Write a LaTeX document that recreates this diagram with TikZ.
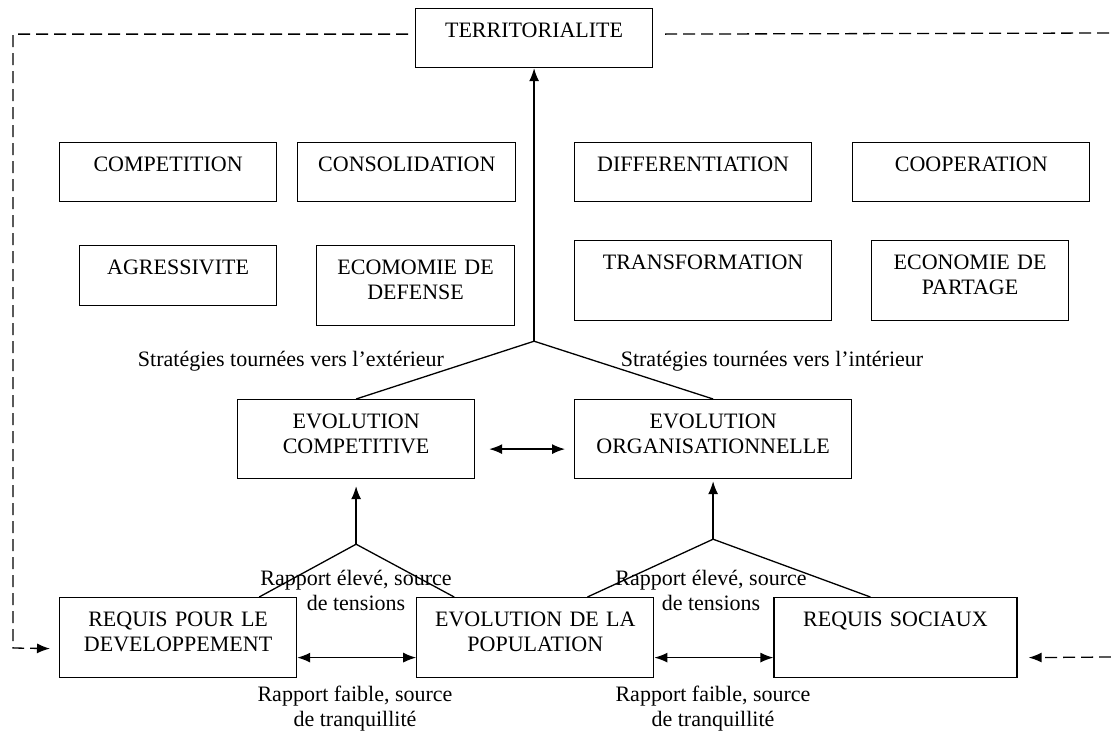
\documentclass[tikz,border=0pt]{standalone}
\usepackage{fontspec}
\setmainfont{Liberation Serif}
\usetikzlibrary{positioning,arrows.meta}

\begin{document}
\begin{tikzpicture}[x=1pt,y=-1pt,
				font=\fontsize{22}{25}\selectfont,
				block/.style={draw,rectangle,line width=1.2pt,inner sep=0pt,anchor=north west,align=center,text height=29pt},
				sz/.style 2 args={text width=#1pt,text depth=#2pt},
				lbl/.style={align=center,inner sep=0pt},
				link/.style={line width=1.3pt},
				arr/.style={line width=1.3pt,-{Latex[length=13pt,width=10pt]}},
				darr/.style={line width=1.3pt,{Latex[length=13pt,width=10pt]}-{Latex[length=13pt,width=10pt]}},
				fb/.style={line width=1.3pt,dash pattern=on 12pt off 6pt}]
				\useasboundingbox (0,0) rectangle (1111,734);
				\node[block,sz={237}{30}] (terr)  at (415,8)   {TERRITORIALITE};
				\node[block,sz={217}{30}] (comp)  at (59,142)  {COMPETITION};
				\node[block,sz={218}{30}] (cons)  [right=20pt of comp] {CONSOLIDATION};
				\node[block,sz={237}{30}] (diff)  at (574,142) {DIFFERENTIATION};
				\node[block,sz={237}{30}] (coop)  [right=40pt of diff] {COOPERATION};
				\node[block,sz={197}{31}] (agr)   at (79,245)  {AGRESSIVITE};
				\node[block,sz={198}{51}] (ecod)  at (316,245) {ECOMOMIE DE\\DEFENSE};
				\node[block,sz={257}{51}] (trans) at (574,240) {TRANSFORMATION};
				\node[block,sz={197}{51}] (ecop)  at (871,240) {ECONOMIE DE\\PARTAGE};
				\node[block,sz={237}{50}] (evc)   at (237,399) {EVOLUTION\\COMPETITIVE};
				\node[block,sz={277}{50}] (evo)   at (574,399) {EVOLUTION\\ORGANISATIONNELLE};
				\node[block,sz={237}{51}] (rqd)   at (59,597)  {REQUIS POUR LE\\DEVELOPPEMENT};
				\node[block,sz={237}{51}] (pop)   [right=119pt of rqd] {EVOLUTION DE LA\\POPULATION};
				\node[block,sz={243}{51}] (rqs)   [right=119pt of pop] {REQUIS SOCIAUX};
				
				\node[lbl] (ext)   at (291,361) {Stratégies tournées vers l’extérieur};
				\node[lbl] (int)   at (772,361) {Stratégies tournées vers l’intérieur};
				\node[lbl] (tens1) at (356,590) {Rapport élevé, source\\de tensions};
				\node[lbl] (tens2) at (711,590) {Rapport élevé, source\\de tensions};
				\node[lbl] (calm1) at (355,709) {Rapport faible, source\\de tranquillité};
				\node[lbl] (calm2) at (713,709) {Rapport faible, source\\de tranquillité};
				
				\coordinate (j0) at ([yshift=-273pt]terr.south);
				\coordinate (j1) at ([yshift=-65pt]evc.south);
				\coordinate (j2) at ([yshift=-60pt]evo.south);
				\coordinate (fbl)  at (13,648);
				\coordinate (fbr1) at (1111,33);
				\coordinate (fbr2) at (1111,657);
				
				\draw[arr]  (j0) -- (terr.south);
				\draw[link] (evc.north) -- (j0) -- (evo.north);
				\draw[darr] ([xshift=14pt,yshift=-10pt]evc.east) -- ([xshift=-9pt,yshift=-10pt]evo.west);
				\draw[arr]  (j1) -- ([yshift=-7pt]evc.south);
				\draw[link] ([xshift=-38pt]rqd.north east) -- (j1) -- ([xshift=38pt]pop.north west);
				\draw[arr]  (j2) -- ([yshift=-2pt]evo.south);
				\draw[link] ([xshift=-67pt]pop.north east) -- (j2) -- ([xshift=97pt]rqs.north west);
				\draw[darr] ([yshift=-20pt]rqd.east) -- ([yshift=-20pt]pop.west);
				\draw[darr] ([yshift=-20pt]pop.east) -- ([yshift=-20pt]rqs.west);
				\draw[fb,-{Latex[length=13pt,width=10pt]}] ([xshift=-7pt,yshift=4pt]terr.west) -| (fbl) -- ([xshift=-9pt,yshift=-11pt]rqd.west);
				\draw[fb] ([xshift=12pt,yshift=4pt]terr.east) -- (fbr1);
				\draw[fb,-{Latex[length=13pt,width=10pt]}] (fbr2) -- ([xshift=11pt,yshift=-20pt]rqs.east);
			\end{tikzpicture}
\end{document}
